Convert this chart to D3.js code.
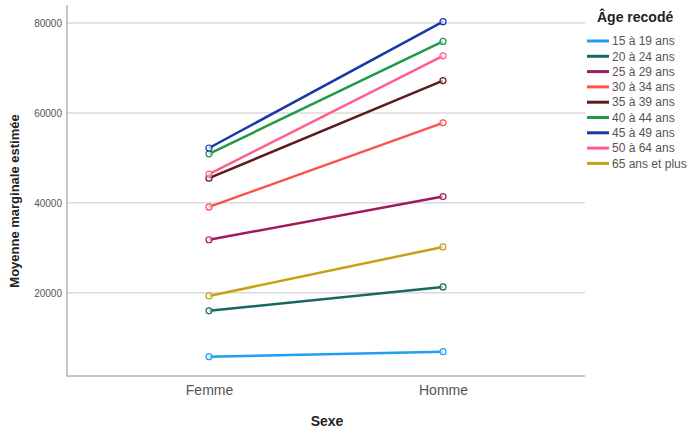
<!DOCTYPE html>
<html><head><meta charset="utf-8">
<script src="https://cdn.jsdelivr.net/npm/d3@7"></script>
<style>body{margin:0;background:#fff}svg{display:block;font-family:"Liberation Sans",Arial,sans-serif}</style>
</head><body><svg id="c" width="688" height="429"></svg>
<script>
const categories = ["Femme", "Homme"];
const seriesNames = ["15 à 19 ans","20 à 24 ans","25 à 29 ans","30 à 34 ans","35 à 39 ans","40 à 44 ans","45 à 49 ans","50 à 64 ans","65 ans et plus"];
const femmeValues = [5800, 16000, 31800, 39100, 45500, 50900, 52200, 46400, 19300];
const hommeValues = [6900, 21300, 41400, 57800, 67200, 75900, 80300, 72700, 30200];
const seriesColors = ["#1f9ff2","#17695f","#a11a5c","#ff5050","#5b1b1c","#1f9a49","#1a38a8","#ff5e8c","#c9a015"];
const yTicks = [20000, 40000, 60000, 80000];

const svg = d3.select("#c");
const L = 67, R = 585, T = 5, B = 376;
const x = d3.scalePoint().domain(categories).range([L, R]).padding(0.607);
const y = d3.scaleLinear().domain([1500, 84000]).range([B, T]);

// gridlines
svg.append("g").selectAll("line").data(yTicks).join("line")
  .attr("x1", L).attr("x2", R).attr("y1", d => y(d)).attr("y2", d => y(d))
  .attr("stroke", "#dadada").attr("stroke-width", 1.5);

// y axis
const ya = svg.append("g").attr("transform", `translate(${L},0)`)
  .call(d3.axisLeft(y).tickValues(yTicks).tickSize(0).tickPadding(5).tickFormat(d3.format("d")));
ya.select(".domain").remove();
ya.selectAll("text").attr("fill", "#555").style("font-size", "10px");
// x axis
const xa = svg.append("g").attr("transform", `translate(0,${B})`)
  .call(d3.axisBottom(x).tickSize(0).tickPadding(9));
xa.select(".domain").remove();
xa.selectAll("text").attr("fill", "#555").style("font-size", "14px");

// axis lines
svg.append("path").attr("d", `M${L},${T}V${B}H${R}`).attr("fill", "none")
  .attr("stroke", "#b5b5b5").attr("stroke-width", 1.5);

// titles
svg.append("text").attr("x", 327).attr("y", 426).attr("text-anchor", "middle")
  .style("font-size", "14px").style("font-weight", "bold").attr("fill", "#222").text("Sexe");
svg.append("text").attr("transform", "translate(19,201) rotate(-90)").attr("text-anchor", "middle")
  .style("font-size", "13px").style("font-weight", "bold").attr("fill", "#222").text("Moyenne marginale estimée");

// series
const data = seriesNames.map((n, i) => ({name: n, color: seriesColors[i], pts: [[categories[0], femmeValues[i]], [categories[1], hommeValues[i]]]}));
const line = d3.line().x(d => x(d[0])).y(d => y(d[1]));
const g = svg.append("g");
data.forEach(s => {
  g.append("path").attr("d", line(s.pts)).attr("fill", "none").attr("stroke", s.color).attr("stroke-width", 2.5);
});
data.forEach(s => {
  g.selectAll(null).data(s.pts).join("circle").attr("cx", d => x(d[0])).attr("cy", d => y(d[1]))
    .attr("r", 3).attr("fill", "#fff").attr("fill-opacity", 0.6).attr("stroke", s.color).attr("stroke-width", 1.2);
});

// legend
const lg = svg.append("g");
lg.append("text").attr("x", 597).attr("y", 22).style("font-size", "14px").style("font-weight", "bold")
  .attr("fill", "#222").text("Âge recodé");
data.forEach((s, i) => {
  const yy = 41 + i * 15.3;
  lg.append("line").attr("x1", 587).attr("x2", 609).attr("y1", yy).attr("y2", yy)
    .attr("stroke", s.color).attr("stroke-width", 3);
  lg.append("text").attr("x", 612).attr("y", yy + 4.2).style("font-size", "12px").attr("fill", "#555").text(s.name);
});
</script></body></html>
